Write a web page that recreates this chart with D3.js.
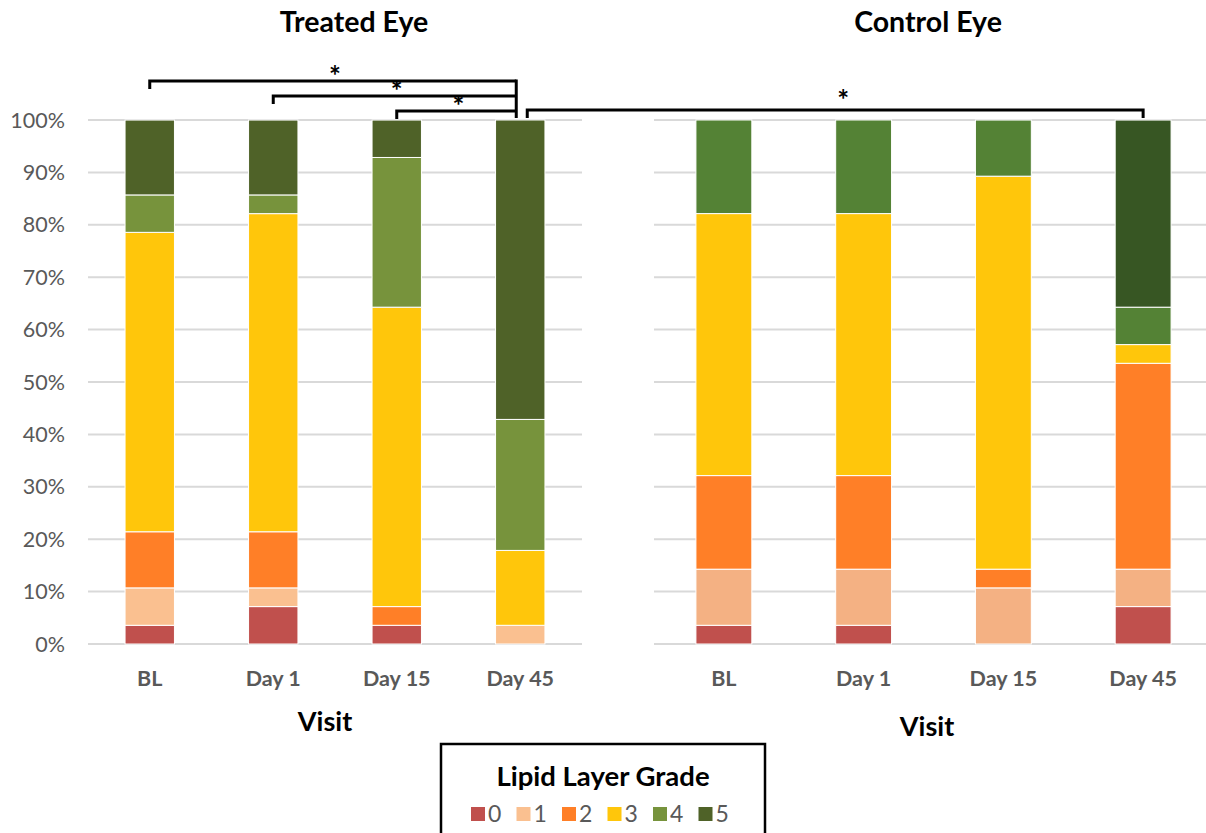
<!DOCTYPE html>
<html><head><meta charset="utf-8">
<script src="https://cdn.jsdelivr.net/npm/d3@7"></script>
<style>body{margin:0;background:#fff}svg{display:block}</style>
</head><body>
<svg id="c" width="1206" height="833"></svg>
<script>
const visits = ["BL", "Day 1", "Day 15", "Day 45"];
const grades = ["0", "1", "2", "3", "4", "5"];
const yTicks = [0, 10, 20, 30, 40, 50, 60, 70, 80, 90, 100];
// percent of eyes per grade (rows = visits, cols = grades 0..5)
const treated = [
  [3.57, 7.14, 10.71, 57.14, 7.14, 14.29],
  [7.14, 3.57, 10.71, 60.71, 3.57, 14.29],
  [3.57, 0, 3.57, 57.14, 28.57, 7.14],
  [0, 3.57, 0, 14.29, 25.00, 57.14]
];
const control = [
  [3.57, 10.71, 17.86, 50.00, 17.86, 0],
  [3.57, 10.71, 17.86, 50.00, 17.86, 0],
  [0, 10.71, 3.57, 75.00, 10.71, 0],
  [7.14, 7.14, 39.29, 3.57, 7.14, 35.71]
];
const treatedColors = ["#C0504D", "#FAC090", "#FF7F27", "#FFC60B", "#77933C", "#4F6228"];
const controlColors = ["#C0504D", "#F4B183", "#FF7F27", "#FFC60B", "#548235", "#375623"];
// significance brackets: [fromVisit, toVisit]
const treatedSig = [["BL", "Day 45"], ["Day 1", "Day 45"], ["Day 15", "Day 45"]];

const svg = d3.select("#c");
const font = "Lato, 'Open Sans', sans-serif";
const y = d3.scaleLinear().domain([0, 100]).range([644, 120]);

function panel(data, colors, x0, x1, gridEnd, title, titleX, visitX, visitY) {
  const x = d3.scaleBand().domain(visits).range([x0, x1]).paddingInner(0.6).paddingOuter(0.3);
  const g = svg.append("g");
  g.selectAll("line.grid").data(yTicks).join("line")
    .attr("x1", x0).attr("x2", gridEnd)
    .attr("y1", d => y(d)).attr("y2", d => y(d))
    .attr("stroke", "#d9d9d9").attr("stroke-width", 2);
  const rows = data.map((r, i) => {
    const o = { visit: visits[i] };
    grades.forEach((k, j) => o[k] = r[j]);
    return o;
  });
  const stacked = d3.stack().keys(grades)(rows);
  stacked.forEach((s, j) => {
    g.selectAll(null).data(s.filter(d => d[1] - d[0] > 0)).join("rect")
      .attr("x", d => x(d.data.visit)).attr("width", x.bandwidth())
      .attr("y", d => y(d[1])).attr("height", d => y(d[0]) - y(d[1]))
      .attr("fill", colors[j]).attr("stroke", "#fff").attr("stroke-width", 1);
  });
  g.selectAll("text.xl").data(visits).join("text")
    .attr("x", d => x(d) + x.bandwidth() / 2).attr("y", 686)
    .attr("text-anchor", "middle").attr("font-family", font)
    .attr("font-weight", "bold").attr("font-size", 21.5).attr("fill", "#595959")
    .text(d => d);
  svg.append("text").attr("x", titleX).attr("y", 32)
    .attr("text-anchor", "middle").attr("font-family", font).attr("font-weight", "bold")
    .attr("font-size", 28.5).attr("fill", "#000").text(title);
  svg.append("text").attr("x", visitX).attr("y", visitY)
    .attr("text-anchor", "middle").attr("font-family", font).attr("font-weight", "bold")
    .attr("font-size", 27).attr("fill", "#000").text("Visit");
  return x;
}

const xt = panel(treated, treatedColors, 88, 582, 582, "Treated Eye", 354, 325, 731);
const xc = panel(control, controlColors, 654, 1213, 1206, "Control Eye", 928, 927, 736);

// y axis labels
svg.selectAll("text.yl").data(yTicks).join("text")
  .attr("x", 65).attr("y", d => y(d) + 7.5)
  .attr("text-anchor", "end").attr("font-family", font)
  .attr("font-size", 21.5).attr("fill", "#595959")
  .text(d => d + "%");

// brackets
const cx = (sc, v) => sc(v) + sc.bandwidth() / 2;
const bY = [81, 96, 111];
treatedSig.forEach((p, i) => {
  const a = cx(xt, p[0]), b = cx(xt, p[1]) - 4, yy = bY[i];
  svg.append("path").attr("d", `M${a},${yy + 8}V${yy}H${b}`)
    .attr("fill", "none").attr("stroke", "#000").attr("stroke-width", 3);
  svg.append("text").attr("x", (a + b) / 2 + 2).attr("y", yy + 5).attr("text-anchor", "middle")
    .attr("font-family", font).attr("font-weight", "bold").attr("font-size", 28).text("*");
});
// right long vertical for treated brackets
svg.append("path").attr("d", `M${cx(xt, "Day 45") - 4},${bY[0] - 1.5}V118`)
  .attr("fill", "none").attr("stroke", "#000").attr("stroke-width", 3);
// cross-panel bracket Treated Day 45 -> Control Day 45
{
  const a = cx(xt, "Day 45") + 7, b = cx(xc, "Day 45"), yy = 110;
  svg.append("path").attr("d", `M${a},118V${yy}H${b}V118`)
    .attr("fill", "none").attr("stroke", "#000").attr("stroke-width", 3);
  svg.append("text").attr("x", (a + b) / 2 + 8).attr("y", yy + 0).attr("text-anchor", "middle")
    .attr("font-family", font).attr("font-weight", "bold").attr("font-size", 28).text("*");
}

// legend
const lg = svg.append("g");
lg.append("rect").attr("x", 441).attr("y", 744).attr("width", 324).attr("height", 100)
  .attr("fill", "#fff").attr("stroke", "#000").attr("stroke-width", 2.5);
lg.append("text").attr("x", 603).attr("y", 786).attr("text-anchor", "middle")
  .attr("font-family", font).attr("font-weight", "bold").attr("font-size", 27.5).text("Lipid Layer Grade");
const li = lg.selectAll("g.it").data(grades).join("g")
  .attr("transform", (d, i) => `translate(${471 + i * 45.5},807)`);
li.append("rect").attr("width", 14).attr("height", 14).attr("fill", (d, i) => treatedColors[i]);
li.append("text").attr("x", 17).attr("y", 15).attr("font-family", font)
  .attr("font-size", 23).attr("fill", "#595959").text(d => d);
</script>
</body></html>
